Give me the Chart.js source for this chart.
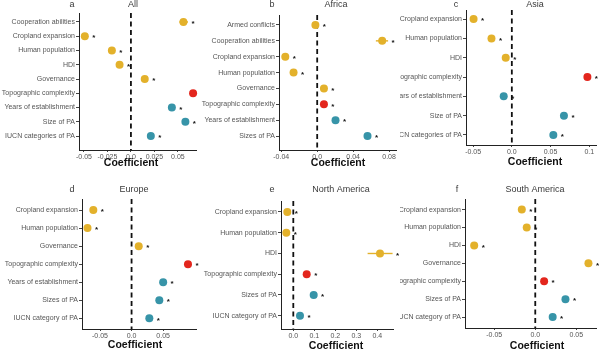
<!DOCTYPE html>
<html>
<head>
<meta charset="utf-8">
<script src="https://cdn.jsdelivr.net/npm/chart.js@4.4.1/dist/chart.umd.min.js"></script>
<style>
  html, body { margin: 0; padding: 0; background: #fff; }
  #wrap { position: relative; width: 600px; height: 353px; overflow: hidden; }
  #wrap canvas { position: absolute; }
</style>
</head>
<body>
<div id="wrap"></div>
<script>
// ---- data ----
// a - All
const allLabels = ['Cooperation abilities', 'Cropland expansion', 'Human population', 'HDI', 'Governance',
  'Topographic complexity', 'Years of establishment', 'Size of PA', 'IUCN categories of PA'];
const allCoef = [0.0559, -0.0491, -0.0203, -0.0121, 0.0147, 0.0662, 0.0436, 0.058, 0.0212];
const allLow  = [0.0515, -0.0515, -0.0225, -0.0143, 0.0127, 0.0640, 0.0416, 0.056, 0.0192];
const allHigh = [0.0608, -0.0467, -0.0181, -0.0099, 0.0167, 0.0684, 0.0456, 0.060, 0.0232];
const allTicks = [-0.05, -0.025, 0, 0.025, 0.05];
const allTickLabels = ['-0.05', '-0.025', '0.0', '0.025', '0.05'];

// b - Africa
const afrLabels = ['Armed conflicts', 'Cooperation abilities', 'Cropland expansion', 'Human population',
  'Governance', 'Topographic complexity', 'Years of establishment', 'Sizes of PA'];
const afrCoef = [-0.002, 0.0723, -0.0355, -0.0263, 0.0075, 0.0075, 0.0204, 0.056];
const afrLow  = [-0.0045, 0.0653, -0.038, -0.0288, 0.005, 0.005, 0.018, 0.0535];
const afrHigh = [0.0005, 0.0789, -0.033, -0.0238, 0.010, 0.010, 0.0228, 0.0585];
const afrTicks = [-0.04, 0, 0.04, 0.08];
const afrTickLabels = ['-0.04', '0.0', '0.04', '0.08'];

// c - Asia
const asiaLabels = ['Cropland expansion', 'Human population', 'HDI', 'Topographic complexity',
  'Years of establishment', 'Size of PA', 'IUCN categories of PA'];
const asiaCoef = [-0.0494, -0.0263, -0.0079, 0.0976, -0.0105, 0.0673, 0.0536];
const asiaLow  = [-0.0524, -0.0293, -0.0109, 0.0946, -0.0135, 0.0643, 0.0506];
const asiaHigh = [-0.0464, -0.0233, -0.0049, 0.1006, -0.0075, 0.0703, 0.0566];
const asiaTicks = [-0.05, 0, 0.05, 0.1];
const asiaTickLabels = ['-0.05', '0.0', '0.05', '0.1'];

// d - Europe
const eurLabels = ['Cropland expansion', 'Human population', 'Governance', 'Topographic complexity',
  'Years of establishment', 'Sizes of PA', 'IUCN category of PA'];
const eurCoef = [-0.0606, -0.0698, 0.0113, 0.0893, 0.050, 0.0439, 0.0281];
const eurLow  = [-0.0646, -0.0738, 0.0073, 0.0853, 0.046, 0.0399, 0.0241];
const eurHigh = [-0.0566, -0.0658, 0.0153, 0.0933, 0.054, 0.0479, 0.0321];
const eurTicks = [-0.05, 0, 0.05];
const eurTickLabels = ['-0.05', '0.0', '0.05'];

// e - North America
const naLabels = ['Cropland expansion', 'Human population', 'HDI', 'Topographic complexity',
  'Sizes of PA', 'IUCN category of PA'];
const naCoef = [-0.0286, -0.0333, 0.413, 0.0638, 0.0971, 0.0319];
const naLow  = [-0.040, -0.045, 0.354, 0.052, 0.085, 0.020];
const naHigh = [-0.017, -0.021, 0.473, 0.076, 0.109, 0.044];
const naTicks = [0, 0.1, 0.2, 0.3, 0.4];
const naTickLabels = ['0.0', '0.1', '0.2', '0.3', '0.4'];

// f - South America
const saLabels = ['Cropland expansion', 'Human population', 'HDI', 'Governance',
  'Topographic complexity', 'Sizes of PA', 'IUCN category of PA'];
const saCoef = [-0.0164, -0.0104, -0.0744, 0.0648, 0.0108, 0.0368, 0.0212];
const saLow  = [-0.0194, -0.0134, -0.0774, 0.0618, 0.0078, 0.0338, 0.0182];
const saHigh = [-0.0134, -0.0074, -0.0714, 0.0678, 0.0138, 0.0398, 0.0242];
const saTicks = [-0.05, 0, 0.05];
const saTickLabels = ['-0.05', '0.0', '0.05'];

// ---- look ----
const FONT = "'Liberation Sans', Arial, sans-serif";
const YELLOW = '#E3B12B', RED = '#E3261D', TEAL = '#3794A8';
const paVars = ['Years of establishment', 'Size of PA', 'Sizes of PA', 'IUCN categories of PA', 'IUCN category of PA'];
function colorFor(label) {
  if (label === 'Topographic complexity') return RED;
  if (paVars.includes(label)) return TEAL;
  return YELLOW;
}

// the figure's labels are tall but narrow -> use the narrow face if it is there
function hasFont(name) {
  const c = document.createElement('canvas').getContext('2d');
  const t = 'Topographic complexity 0.05';
  c.font = '20px monospace';
  const a = c.measureText(t).width;
  c.font = "20px '" + name + "', monospace";
  return Math.abs(c.measureText(t).width - a) > 0.5;
}
const NARROW = hasFont('Liberation Sans Narrow');
const labelFont = NARROW ? { family: "'Liberation Sans Narrow'", size: 8.5 } : { family: FONT, size: 7 };
const tickFont = { family: FONT, size: 7 };

// panel placement: box = [left, top, w, h]; area = [left, right, top, bottom] inside the canvas
const panels = [
  { letter: 'a', title: 'All', labels: allLabels, coef: allCoef, lo: allLow, hi: allHigh,
    ticks: allTicks, tickLabels: allTickLabels, box: [0, 0, 200, 176], area: [79, 200, 13, 150],
    xr: [-0.0553, 0.0693], yr: [-0.63, 8.98], letterX: 72, titleX: 133, titleY: 5, xlabX: 131, xlabY: 163 },
  { letter: 'b', title: 'Africa', labels: afrLabels, coef: afrCoef, lo: afrLow, hi: afrHigh,
    ticks: afrTicks, tickLabels: afrTickLabels, box: [200, 0, 200, 176], area: [79, 197, 15, 150],
    xr: [-0.0425, 0.0877], yr: [-0.63, 7.88], letterX: 72, titleX: 136, titleY: 5, xlabX: 138, xlabY: 163 },
  { letter: 'c', title: 'Asia', labels: asiaLabels, coef: asiaCoef, lo: asiaLow, hi: asiaHigh,
    ticks: asiaTicks, tickLabels: asiaTickLabels, box: [400, 0, 200, 176], area: [66, 197, 10, 145],
    xr: [-0.0592, 0.1087], yr: [-0.47, 6.52], letterX: 56, titleX: 135, titleY: 5, xlabX: 135, xlabY: 162 },
  { letter: 'd', title: 'Europe', labels: eurLabels, coef: eurCoef, lo: eurLow, hi: eurHigh,
    ticks: eurTicks, tickLabels: eurTickLabels, box: [0, 176, 200, 177], area: [82, 200, 23, 153],
    xr: [-0.0785, 0.102], yr: [-0.61, 6.59], letterX: 72, titleX: 134, titleY: 14, xlabX: 135, xlabY: 169 },
  { letter: 'e', title: 'North America', labels: naLabels, coef: naCoef, lo: naLow, hi: naHigh,
    ticks: naTicks, tickLabels: naTickLabels, box: [200, 176, 200, 177], area: [81, 193, 25, 153],
    xr: [-0.0586, 0.475], yr: [-0.53, 5.64], letterX: 72, titleX: 141, titleY: 14, xlabX: 136, xlabY: 170 },
  { letter: 'f', title: 'South America', labels: saLabels, coef: saCoef, lo: saLow, hi: saHigh,
    ticks: saTicks, tickLabels: saTickLabels, box: [400, 176, 200, 177], area: [65, 198, 23, 152],
    xr: [-0.0856, 0.074], yr: [-0.59, 6.61], letterX: 57, titleX: 135, titleY: 14, xlabX: 137, xlabY: 170 }
];

// zero line, error bars, asterisks, titles
const decor = {
  id: 'decor',
  beforeDatasetsDraw(chart) {
    const p = chart.options.plugins.decor.panel;
    const { ctx, chartArea } = chart;
    const xs = chart.scales.x, ys = chart.scales.y;
    ctx.save();
    // dashed line at zero
    const x0 = xs.getPixelForValue(0);
    ctx.strokeStyle = '#111';
    ctx.lineWidth = 1.8;
    ctx.setLineDash([5, 3.5]);
    ctx.beginPath();
    ctx.moveTo(x0, chartArea.top);
    ctx.lineTo(x0, chartArea.bottom);
    ctx.stroke();
    ctx.setLineDash([]);
    // confidence intervals
    ctx.lineWidth = 1.4;
    p.coef.forEach((v, i) => {
      const y = ys.getPixelForValue(i);
      ctx.strokeStyle = colorFor(p.labels[i]);
      ctx.beginPath();
      ctx.moveTo(xs.getPixelForValue(p.lo[i]), y);
      ctx.lineTo(xs.getPixelForValue(p.hi[i]), y);
      ctx.stroke();
    });
    ctx.restore();
  },
  afterDraw(chart) {
    const p = chart.options.plugins.decor.panel;
    const { ctx } = chart;
    const xs = chart.scales.x, ys = chart.scales.y;
    ctx.save();
    // significance marks
    ctx.fillStyle = '#111';
    ctx.font = 'bold 8px ' + FONT;
    ctx.textAlign = 'center';
    ctx.textBaseline = 'middle';
    p.coef.forEach((v, i) => {
      const x = Math.max(xs.getPixelForValue(v) + 9, xs.getPixelForValue(p.hi[i]) + 5);
      ctx.fillText('*', x, ys.getPixelForValue(i) + 2);
    });
    // panel letter + title
    ctx.fillStyle = '#3a3a3a';
    ctx.font = '9px ' + FONT;
    ctx.fillText(p.letter, p.letterX, p.titleY);
    ctx.fillText(p.title, p.titleX, p.titleY);
    // axis title
    ctx.fillStyle = '#111';
    ctx.font = 'bold 10.5px ' + FONT;
    ctx.fillText('Coefficient', p.xlabX, p.xlabY);
    ctx.restore();
  }
};

const wrap = document.getElementById('wrap');
panels.forEach(p => {
  const [left, top, w, h] = p.box;
  const [aL, aR, aT, aB] = p.area;
  const cv = document.createElement('canvas');
  cv.width = w; cv.height = h;
  cv.style.left = left + 'px'; cv.style.top = top + 'px';
  cv.style.width = w + 'px'; cv.style.height = h + 'px';
  wrap.appendChild(cv);

  new Chart(cv, {
    type: 'scatter',
    data: {
      datasets: [{
        data: p.coef.map((v, i) => ({ x: v, y: i })),
        pointBackgroundColor: p.labels.map(colorFor),
        pointBorderWidth: 0,
        pointRadius: 4,
        clip: false
      }]
    },
    options: {
      responsive: false,
      animation: false,
      devicePixelRatio: 1,
      layout: { padding: { left: 0, right: w - aR, top: aT, bottom: 0 } },
      plugins: { legend: { display: false }, tooltip: { enabled: false }, decor: { panel: p } },
      scales: {
        x: {
          type: 'linear',
          min: p.xr[0], max: p.xr[1],
          afterBuildTicks: s => { s.ticks = p.ticks.map(v => ({ value: v })); },
          afterFit: s => { s.height = h - aB; },
          ticks: {
            callback: v => p.tickLabels[p.ticks.indexOf(v)],
            font: tickFont,
            color: '#555',
            padding: 1,
            maxRotation: 0,
            autoSkip: false
          },
          grid: { display: true, drawOnChartArea: false, drawTicks: true, tickLength: 2, color: '#444' },
          border: { display: true, color: '#222', width: 1 }
        },
        y: {
          type: 'linear',
          reverse: true,
          min: p.yr[0], max: p.yr[1],
          afterBuildTicks: s => { s.ticks = p.labels.map((l, i) => ({ value: i })); },
          afterFit: s => { s.width = aL; },
          ticks: {
            callback: v => p.labels[v],
            font: labelFont,
            color: '#555',
            padding: 1,
            autoSkip: false
          },
          grid: { display: true, drawOnChartArea: false, drawTicks: true, tickLength: 3, color: '#444' },
          border: { display: true, color: '#222', width: 1 }
        }
      }
    },
    plugins: [decor]
  });
});
</script>
</body>
</html>
